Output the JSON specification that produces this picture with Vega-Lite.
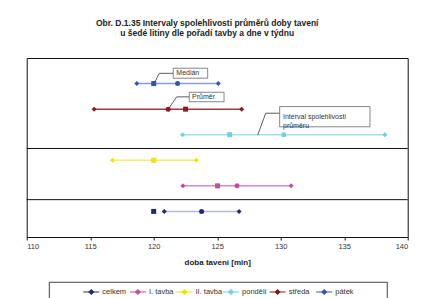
{
  "$schema": "https://vega.github.io/schema/vega-lite/v6.json",
  "width": 381,
  "height": 179,
  "autosize": {"type": "none"},
  "padding": {"left": 26.7, "top": 58, "right": 13.3, "bottom": 61},
  "background": "white",
  "title": {
    "text": ["Obr. D.1.35 Intervaly spolehlivosti  průměrů doby tavení", "u šedé litiny dle pořadí tavby a dne v týdnu"],
    "font": "Liberation Sans", "fontSize": 8.5, "fontWeight": "bold", "color": "#222",
    "anchor": "middle", "dx": -10, "offset": 21, "lineHeight": 9.5
  },
  "config": {
    "view": {"stroke": "#111", "strokeWidth": 1},
    "axis": {"grid": false}
  },
  "resolve": {"scale": {"x": "independent"}},
  "layer": [
    {
      "layer": [
        {
          "data": {"values": [
            {"serie": "celkem", "uroven": 1, "dolni": 120.83, "horni": 126.72},
            {"serie": "I. tavba", "uroven": 2, "dolni": 122.3, "horni": 130.82},
            {"serie": "II. tavba", "uroven": 3, "dolni": 116.75, "horni": 123.35},
            {"serie": "pondělí", "uroven": 4, "dolni": 122.27, "horni": 138.2},
            {"serie": "středa", "uroven": 5, "dolni": 115.31, "horni": 126.93},
            {"serie": "pátek", "uroven": 6, "dolni": 118.67, "horni": 125.09}
          ]},
          "mark": {"type": "rule", "strokeWidth": 1.5},
          "encoding": {
            "x": {"field": "dolni", "type": "quantitative",
              "scale": {"domain": [110, 140], "nice": false, "zero": false},
              "axis": {"values": [110, 115, 120, 125, 130, 135, 140], "domain": false, "tickColor": "#111", "tickSize": 3,
                "labelFont": "Liberation Sans", "labelFontSize": 7.5, "labelColor": "#333", "labelPadding": 2.5,
                "title": "doba tavení [min]", "titleFont": "Liberation Sans", "titleFontSize": 8, "titleFontWeight": "bold", "titleColor": "#222", "titlePadding": 8}},
            "x2": {"field": "horni"},
            "y": {"field": "uroven", "type": "quantitative", "axis": null, "scale": {"domain": [0, 7], "nice": false, "zero": false}},
            "stroke": {"field": "serie", "type": "nominal", "legend": null,
              "scale": {"domain": ["celkem", "I. tavba", "II. tavba", "pondělí", "středa", "pátek"],
                "range": ["#b3b9d6", "#d48cc8", "#f2ee70", "#a0e2ee", "#a33a3a", "#86a0d6"]}}
          }
        },
        {
          "data": {"values": [{"uroven": 1.46}, {"uroven": 3.46}]},
          "mark": {"type": "rule", "color": "#111", "strokeWidth": 1},
          "encoding": {
            "y": {"field": "uroven", "type": "quantitative"}
          }
        },
        {
          "data": {"values": [
            {"serie": "celkem", "uroven": 1, "ukazatel": "dolni", "hodnota": 120.83},
            {"serie": "celkem", "uroven": 1, "ukazatel": "prumer", "hodnota": 123.77},
            {"serie": "celkem", "uroven": 1, "ukazatel": "median", "hodnota": 120.0},
            {"serie": "celkem", "uroven": 1, "ukazatel": "horni", "hodnota": 126.72},
            {"serie": "I. tavba", "uroven": 2, "ukazatel": "dolni", "hodnota": 122.3},
            {"serie": "I. tavba", "uroven": 2, "ukazatel": "prumer", "hodnota": 126.56},
            {"serie": "I. tavba", "uroven": 2, "ukazatel": "median", "hodnota": 125.03},
            {"serie": "I. tavba", "uroven": 2, "ukazatel": "horni", "hodnota": 130.82},
            {"serie": "II. tavba", "uroven": 3, "ukazatel": "dolni", "hodnota": 116.75},
            {"serie": "II. tavba", "uroven": 3, "ukazatel": "prumer", "hodnota": 120.0},
            {"serie": "II. tavba", "uroven": 3, "ukazatel": "median", "hodnota": 120.0},
            {"serie": "II. tavba", "uroven": 3, "ukazatel": "horni", "hodnota": 123.35},
            {"serie": "pondělí", "uroven": 4, "ukazatel": "dolni", "hodnota": 122.27},
            {"serie": "pondělí", "uroven": 4, "ukazatel": "prumer", "hodnota": 130.24},
            {"serie": "pondělí", "uroven": 4, "ukazatel": "median", "hodnota": 125.98},
            {"serie": "pondělí", "uroven": 4, "ukazatel": "horni", "hodnota": 138.2},
            {"serie": "středa", "uroven": 5, "ukazatel": "dolni", "hodnota": 115.31},
            {"serie": "středa", "uroven": 5, "ukazatel": "prumer", "hodnota": 121.14},
            {"serie": "středa", "uroven": 5, "ukazatel": "median", "hodnota": 122.51},
            {"serie": "středa", "uroven": 5, "ukazatel": "horni", "hodnota": 126.93},
            {"serie": "pátek", "uroven": 6, "ukazatel": "dolni", "hodnota": 118.67},
            {"serie": "pátek", "uroven": 6, "ukazatel": "prumer", "hodnota": 121.88},
            {"serie": "pátek", "uroven": 6, "ukazatel": "median", "hodnota": 120.0},
            {"serie": "pátek", "uroven": 6, "ukazatel": "horni", "hodnota": 125.09}
          ]},
          "mark": {"type": "point", "filled": true, "opacity": 1},
          "encoding": {
            "x": {"field": "hodnota", "type": "quantitative"},
            "y": {"field": "uroven", "type": "quantitative"},
            "color": {"field": "serie", "type": "nominal", "legend": null,
              "scale": {"domain": ["celkem", "I. tavba", "II. tavba", "pondělí", "středa", "pátek"],
                "range": ["#1e2a78", "#c0509e", "#f0e400", "#6cd2e2", "#8c1a1a", "#3456b0"]}},
            "shape": {"field": "ukazatel", "type": "nominal", "legend": null,
              "scale": {"domain": ["dolni", "horni", "median", "prumer"], "range": ["diamond", "diamond", "square", "circle"]}},
            "size": {"field": "ukazatel", "type": "nominal", "legend": null,
              "scale": {"domain": ["dolni", "horni", "median", "prumer"], "range": [25, 25, 36, 30]}}
          }
        },
        {
          "data": {"values": [
            {"id": "m", "x": 121.54, "y": 6.40},
            {"id": "m", "x": 120.44, "y": 6.40},
            {"id": "m", "x": 120.10, "y": 6.07},
            {"id": "p", "x": 122.80, "y": 5.48},
            {"id": "p", "x": 121.81, "y": 5.48},
            {"id": "p", "x": 121.23, "y": 5.06},
            {"id": "i", "x": 129.92, "y": 4.84},
            {"id": "i", "x": 128.82, "y": 4.84},
            {"id": "i", "x": 128.19, "y": 3.99}
          ]},
          "mark": {"type": "line", "color": "#333", "strokeWidth": 0.8},
          "encoding": {
            "x": {"field": "x", "type": "quantitative"},
            "y": {"field": "y", "type": "quantitative"},
            "detail": {"field": "id", "type": "nominal"}
          }
        },
        {
          "data": {"values": [
            {"popis": "Medián", "x1": 121.54, "x2": 124.25, "y1": 6.21, "y2": 6.6, "tx": 121.78, "ty": 6.40},
            {"popis": "Průměr", "x1": 122.8, "x2": 125.54, "y1": 5.29, "y2": 5.66, "tx": 123.02, "ty": 5.48},
            {"popis": "Interval spolehlivosti\nprůměru", "x1": 129.92, "x2": 137.03, "y1": 4.31, "y2": 5.1, "tx": 130.18, "ty": 4.70}
          ]},
          "layer": [
            {
              "mark": {"type": "rect", "fill": "white", "stroke": "#666", "strokeWidth": 0.8},
              "encoding": {
                "x": {"field": "x1", "type": "quantitative"},
                "x2": {"field": "x2"},
                "y": {"field": "y1", "type": "quantitative"},
                "y2": {"field": "y2"}
              }
            },
            {
              "mark": {"type": "text", "align": "left", "baseline": "middle", "font": "Liberation Sans", "fontSize": 7, "color": "#333", "lineBreak": "\n", "lineHeight": 9.5},
              "encoding": {
                "x": {"field": "tx", "type": "quantitative"},
                "y": {"field": "ty", "type": "quantitative"},
                "text": {"field": "popis", "type": "nominal"}
              }
            }
          ]
        },
        {
          "data": {"values": [{"x1": 111.78, "x2": 138.39, "y1": -1.77, "y2": -2.6}]},
          "mark": {"type": "rect", "fill": "white", "stroke": "#111", "strokeWidth": 0.8, "clip": false},
          "encoding": {
            "x": {"field": "x1", "type": "quantitative"},
            "x2": {"field": "x2"},
            "y": {"field": "y1", "type": "quantitative"},
            "y2": {"field": "y2"}
          }
        }
      ]
    },
    {
      "data": {"values": [
        {"serie": "celkem"}, {"serie": "I. tavba"}, {"serie": "II. tavba"},
        {"serie": "pondělí"}, {"serie": "středa"}, {"serie": "pátek"}
      ]},
      "layer": [
        {
          "mark": {"type": "point", "shape": "M-1,0H1M0,-0.32L0.32,0L0,0.32L-0.32,0Z", "size": 256, "filled": false, "strokeWidth": 1, "opacity": 1, "clip": false},
          "encoding": {
            "x": {"field": "serie", "type": "nominal", "axis": null,
              "scale": {"type": "point", "domain": ["celkem", "I. tavba", "II. tavba", "pondělí", "středa", "pátek"], "range": [41.3, 320.8]}},
            "y": {"datum": -2.15, "type": "quantitative"},
            "color": {"field": "serie", "type": "nominal", "legend": null},
            "fill": {"field": "serie", "type": "nominal", "legend": null,
              "scale": {"domain": ["celkem", "I. tavba", "II. tavba", "pondělí", "středa", "pátek"],
                "range": ["#1e2a78", "#c0509e", "#f0e400", "#6cd2e2", "#8c1a1a", "#3456b0"]}}
          }
        },
        {
          "mark": {"type": "text", "align": "left", "baseline": "middle", "dx": 11, "font": "Liberation Sans", "fontSize": 7.5, "color": "#333", "clip": false},
          "encoding": {
            "x": {"field": "serie", "type": "nominal"},
            "y": {"datum": -2.15, "type": "quantitative"},
            "text": {"field": "serie", "type": "nominal"}
          }
        }
      ]
    }
  ]
}
